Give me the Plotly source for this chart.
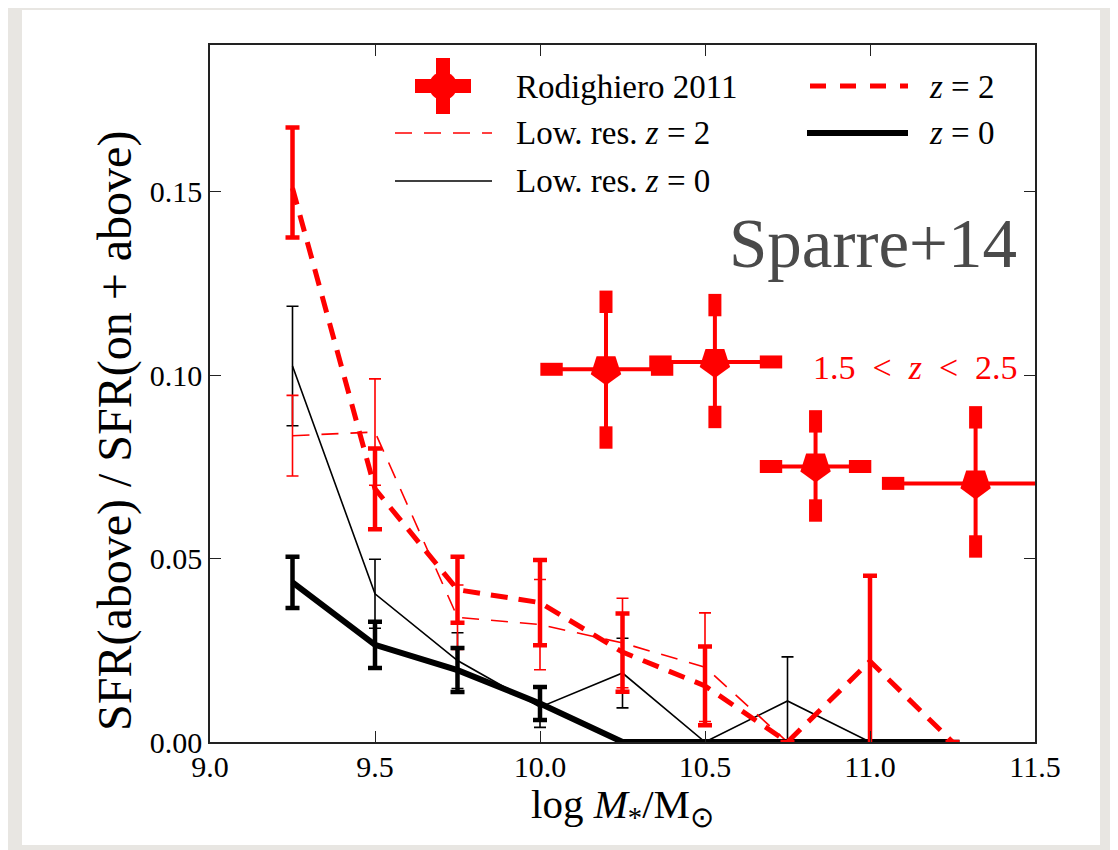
import plotly.graph_objects as go

# mass bins of the simulation curves
mass_bins = [9.25, 9.5, 9.75, 10.0, 10.25, 10.5, 10.75, 11.0, 11.25]

# z = 2, fiducial resolution (thick dashed red)
z2_frac = [0.151, 0.069, 0.0415, 0.038, 0.0245, 0.0153, 0.0, 0.022, 0.0]
z2_err_up = [0.0165, 0.011, 0.009, 0.0116, 0.0105, 0.0107, None, 0.0233, None]
z2_err_dn = [0.0135, 0.011, 0.009, 0.0116, 0.0108, 0.0107, None, 0.0233, None]

# z = 2, low resolution (thin dashed red)
lowres_z2_frac = [0.0835, 0.0845, 0.034, 0.032, 0.027, 0.0204, 0.0, 0.0, 0.0]
lowres_z2_err = [0.011, 0.0145, 0.0088, 0.0123, 0.0122, 0.0148, None, None, None]

# z = 0, fiducial resolution (thick solid black)
z0_frac = [0.0435, 0.0265, 0.0196, 0.0105, 0.0, 0.0, 0.0, 0.0, 0.0]
z0_err = [0.007, 0.0063, 0.006, 0.0045, None, None, None, None, None]

# z = 0, low resolution (thin solid black) - stops at 11.0
lowres_z0_mass = [9.25, 9.5, 9.75, 10.0, 10.25, 10.5, 10.75, 11.0]
lowres_z0_frac = [0.1025, 0.0404, 0.0222, 0.0095, 0.0188, 0.0, 0.0112, 0.0]
lowres_z0_err = [0.0163, 0.0094, 0.0076, 0.0055, 0.0095, None, 0.012, None]

# Rodighiero 2011, 1.5 < z < 2.5
rod_mass = [10.2, 10.53, 10.835, 11.32]
rod_frac = [0.1016, 0.1036, 0.0751, 0.0705]
rod_mass_err_lo = [0.165, 0.165, 0.135, 0.25]
rod_mass_err_hi = [0.17, 0.17, 0.135, 0.25]
rod_frac_err_hi = [0.0184, 0.0155, 0.0123, 0.018]
rod_frac_err_lo = [0.0186, 0.015, 0.012, 0.0172]

RED = '#ff0000'
BLACK = '#000000'
SERIF = 'Liberation Serif'

# page geometry (px, as seen on screen); the html body adds an 8px offset
OFF = 8
W, H = 1118, 850
L, R, T, B = 210, 1035, 45, 742


def px_x(p):
    return (p - L) / (R - L)


def px_y(p):
    return (B - p) / (B - T)


fig = go.Figure()

fig.add_trace(go.Scatter(
    x=lowres_z0_mass, y=lowres_z0_frac, mode='lines',
    line=dict(color=BLACK, width=1.6),
    error_y=dict(type='data', array=lowres_z0_err, color=BLACK, thickness=1.6, width=6),
    name='Low. res. z = 0'))

fig.add_trace(go.Scatter(
    x=mass_bins, y=lowres_z2_frac, mode='lines',
    line=dict(color=RED, width=1.6, dash='17px,12px'),
    error_y=dict(type='data', array=lowres_z2_err, color=RED, thickness=1.6, width=6),
    name='Low. res. z = 2'))

fig.add_trace(go.Scatter(
    x=mass_bins, y=z0_frac, mode='lines',
    line=dict(color=BLACK, width=6),
    error_y=dict(type='data', array=z0_err, color=BLACK, thickness=4.5, width=7),
    name='z = 0'))

fig.add_trace(go.Scatter(
    x=mass_bins, y=z2_frac, mode='lines',
    line=dict(color=RED, width=5, dash='17px,11px'),
    error_y=dict(type='data', array=z2_err_up, arrayminus=z2_err_dn, symmetric=False,
                 color=RED, thickness=4.5, width=7),
    name='z = 2'))

# Rodighiero points: pentagons with thick error bars
fig.add_trace(go.Scatter(
    x=rod_mass, y=rod_frac, mode='markers',
    marker=dict(symbol='pentagon', angle=180, size=32, color=RED),
    error_x=dict(type='data', array=rod_mass_err_hi, arrayminus=rod_mass_err_lo,
                 symmetric=False, color=RED, thickness=4, width=0),
    error_y=dict(type='data', array=rod_frac_err_hi, arrayminus=rod_frac_err_lo,
                 symmetric=False, color=RED, thickness=4, width=0),
    name='Rodighiero 2011'))

# the big block-shaped caps (plotly line symbols are 1.4 x size long)
cap_x_v = rod_mass + rod_mass
cap_y_v = [y + e for y, e in zip(rod_frac, rod_frac_err_hi)] + \
          [y - e for y, e in zip(rod_frac, rod_frac_err_lo)]
fig.add_trace(go.Scatter(
    x=cap_x_v, y=cap_y_v, mode='markers', hoverinfo='skip',
    marker=dict(symbol='line-ns', size=16, line=dict(color=RED, width=13))))

cap_x_h = [x + e for x, e in zip(rod_mass, rod_mass_err_hi)] + \
          [x - e for x, e in zip(rod_mass, rod_mass_err_lo)]
cap_y_h = rod_frac + rod_frac
fig.add_trace(go.Scatter(
    x=cap_x_h, y=cap_y_h, mode='markers', hoverinfo='skip',
    marker=dict(symbol='line-ew', size=16, line=dict(color=RED, width=13))))

# ---- white card + hand made two column legend ----
shapes = [
    dict(type='rect', xref='paper', yref='paper', layer='below',
         x0=px_x(22), x1=px_x(1100), y0=px_y(845), y1=px_y(10),
         fillcolor='white', line=dict(width=0)),
]

# Rodighiero key: cross
kx, ky = 443, 86
shapes.append(dict(type='rect', xref='paper', yref='paper',
                   x0=px_x(kx - 7), x1=px_x(kx + 7), y0=px_y(ky + 28), y1=px_y(ky - 28),
                   fillcolor=RED, line=dict(width=0)))
shapes.append(dict(type='rect', xref='paper', yref='paper',
                   x0=px_x(kx - 28), x1=px_x(kx + 28), y0=px_y(ky + 7), y1=px_y(ky - 7),
                   fillcolor=RED, line=dict(width=0)))
shapes.append(dict(type='circle', xref='paper', yref='paper',
                   x0=px_x(kx - 14), x1=px_x(kx + 14), y0=px_y(ky + 14), y1=px_y(ky - 14),
                   fillcolor=RED, line=dict(width=0)))

legend_lines = [
    (395, 492, 133, RED, 1.6, '17px,12px'),
    (395, 492, 181, BLACK, 1.6, 'solid'),
    (810, 908, 86, RED, 5, '16px,14px'),
    (807, 908, 133, BLACK, 6, 'solid'),
]
for x0, x1, yy, col, lw, dash in legend_lines:
    shapes.append(dict(type='line', xref='paper', yref='paper',
                       x0=px_x(x0), x1=px_x(x1), y0=px_y(yy), y1=px_y(yy),
                       line=dict(color=col, width=lw, dash=dash)))

legend_texts = [
    (514, 87, 'Rodighiero 2011'),
    (514, 133, 'Low. res. <i>z</i> = 2'),
    (514, 181, 'Low. res. <i>z</i> = 0'),
    (927, 87, '<i>z</i> = 2'),
    (927, 133, '<i>z</i> = 0'),
]
annotations = []
for xx, yy, txt in legend_texts:
    annotations.append(dict(xref='paper', yref='paper', x=px_x(xx), y=px_y(yy),
                            xanchor='left', yanchor='middle', showarrow=False,
                            text=txt, font=dict(family=SERIF, size=33, color=BLACK)))

annotations.append(dict(xref='x', yref='y', x=11.45, y=0.1358, xanchor='right',
                        yanchor='middle', showarrow=False, text='Sparre+14',
                        font=dict(family=SERIF, size=69, color='#4a4a4a')))
annotations.append(dict(xref='x', yref='y', x=10.82, y=0.1022, xanchor='left',
                        yanchor='middle', showarrow=False,
                        text='1.5&nbsp; &lt; &nbsp;<i>z</i>&nbsp; &lt; &nbsp;2.5',
                        font=dict(family=SERIF, size=34, color=RED)))

# axis titles placed as text so they sit where the reference has them
annotations.append(dict(xref='paper', yref='paper', x=px_x(622), y=px_y(807),
                        xanchor='center', yanchor='middle', showarrow=False,
                        text='log <i>M</i><sub>*</sub>/M<sub>⊙</sub>',
                        font=dict(family=SERIF, size=41, color=BLACK)))
annotations.append(dict(xref='paper', yref='paper', x=px_x(115), y=px_y(431),
                        xanchor='center', yanchor='middle', showarrow=False,
                        textangle=-90, text='SFR(above) / SFR(on + above)',
                        font=dict(family=SERIF, size=48, color=BLACK)))

axis_common = dict(showgrid=False, zeroline=False, showline=True, linecolor='#222222',
                   linewidth=1.5, mirror='ticks', ticks='inside', ticklen=11,
                   tickwidth=1.2, tickcolor='#222222',
                   tickfont=dict(family=SERIF, size=30, color=BLACK))

fig.update_layout(
    width=W, height=H,
    margin=dict(l=L - OFF, r=W - R + OFF, t=T - OFF, b=H - B + OFF),
    paper_bgcolor='#e8e6e2',
    plot_bgcolor='white',
    showlegend=False,
    shapes=shapes,
    annotations=annotations,
    xaxis=dict(range=[9.0, 11.5], tickvals=[9.0, 9.5, 10.0, 10.5, 11.0, 11.5],
               tickformat='.1f', ticklabelstandoff=-3, **axis_common),
    yaxis=dict(range=[0, 0.19], tickvals=[0.0, 0.05, 0.10, 0.15], tickformat='.2f',
               **axis_common),
)

fig.write_html('out.html')
